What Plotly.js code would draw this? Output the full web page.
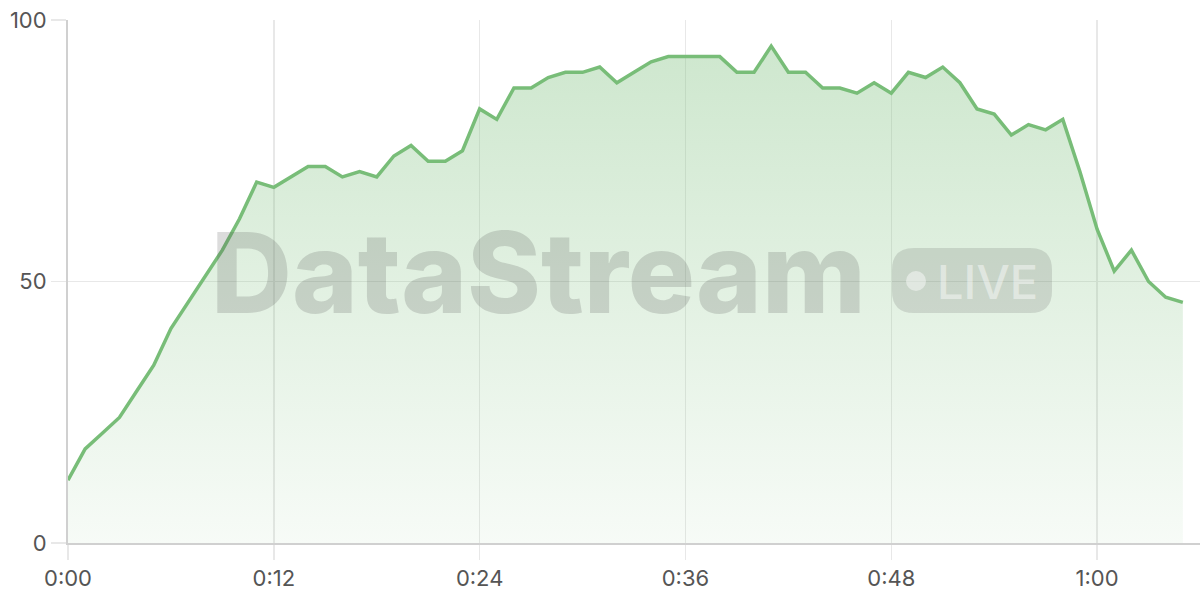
<!DOCTYPE html>
<html>
<head>
<meta charset="utf-8">
<script src="https://cdn.plot.ly/plotly-3.0.1.min.js"></script>
<style>
html,body{margin:0;padding:0;background:#fff;}
#chart{width:1200px;height:600px;}
</style>
</head>
<body>
<div id="chart"></div>
<script>
// minutes since start
const minutes = [0,1,2,3,4,5,6,7,8,9,10,11,12,13,14,15,16,17,18,19,20,21,22,23,24,25,26,27,28,29,30,31,32,33,34,35,36,37,38,39,40,41,42,43,44,45,46,47,48,49,50,51,52,53,54,55,56,57,58,59,60,61,62,63,64,65];
const values = [12,18,21,24,29,34,41,46,51,56,62,69,68,70,72,72,70,71,70,74,76,73,73,75,83,81,87,87,89,90,90,91,88,90,92,93,93,93,93,90,90,95,90,90,87,87,86,88,86,90,89,91,88,83,82,78,80,79,81,71,60,52,56,50,47,46];
const xTickVals = [0,12,24,36,48,60];
const xTickText = ["0:00","0:12","0:24","0:36","0:48","1:00"];
const yTickVals = [0,50,100];
const watermarkText = "DataStream";
const badgeText = "LIVE";

const lineColor = "#78bd78";

const trace = {
  x: minutes,
  y: values,
  type: "scatter",
  mode: "lines",
  line: {color: lineColor, width: 3.5, shape: "linear"},
  fill: "tozeroy",
  fillgradient: {
    type: "vertical",
    start: 0,
    stop: 100,
    colorscale: [[0, "rgba(120,189,120,0.06)"], [1, "rgba(120,189,120,0.38)"]]
  },
  hoverinfo: "skip"
};

const layout = {
  width: 1200,
  height: 600,
  margin: {l: 68, r: 0, t: 20, b: 57},
  paper_bgcolor: "#ffffff",
  plot_bgcolor: "#ffffff",
  showlegend: false,
  font: {family: "Inter, 'Noto Sans', sans-serif", size: 22, color: "#555555"},
  xaxis: {
    range: [0, 66],
    tickvals: xTickVals,
    ticktext: xTickText,
    showgrid: true,
    gridcolor: "#e8e8e8",
    gridwidth: 1.5,
    zeroline: false,
    showline: true,
    linecolor: "#d0d0d0",
    linewidth: 2,
    ticks: "outside",
    ticklen: 15,
    tickwidth: 1.5,
    tickcolor: "#e8e8e8",
    tickfont: {size: 22, color: "#555555"},
    fixedrange: true
  },
  yaxis: {
    range: [0, 100],
    tickvals: yTickVals,
    showgrid: true,
    gridcolor: "#e8e8e8",
    gridwidth: 1.5,
    zeroline: false,
    showline: true,
    linecolor: "#d0d0d0",
    linewidth: 2,
    ticks: "outside",
    ticklen: 15,
    tickwidth: 1.5,
    tickcolor: "#e8e8e8",
    tickfont: {size: 22, color: "#555555"},
    fixedrange: true
  },
  shapes: [
    {type: "circle", xref: "paper", yref: "paper", layer: "above",
     x0: (906-68)/1132, x1: (926-68)/1132, y0: (543-291)/523, y1: (543-271)/523,
     fillcolor: "rgba(255,255,255,0.45)", line: {width: 0}}
  ],
  annotations: [
    {text: watermarkText, xref: "paper", yref: "paper",
     x: (209-68)/1132, y: (543-272)/523, xanchor: "left", yanchor: "middle",
     showarrow: false,
     font: {family: "Inter, 'Noto Sans', sans-serif", size: 112, weight: 800, color: "rgba(80,80,80,0.2)"}},
    {text: badgeText, xref: "paper", yref: "paper",
     x: (935-68)/1132, y: (543-281)/523, xanchor: "left", yanchor: "middle",
     showarrow: false,
     font: {family: "Inter, 'Noto Sans', sans-serif", size: 47, weight: 500, color: "rgba(255,255,255,0.45)"}}
  ]
};

// rounded badge via path
(function(){
  const x0 = (892-68)/1132, x1 = (1052-68)/1132;
  const y0 = (543-313)/523, y1 = (543-248)/523;
  const rx = 22/1132, ry = 22/523;
  const p = `M ${x0+rx},${y0} L ${x1-rx},${y0} Q ${x1},${y0} ${x1},${y0+ry} L ${x1},${y1-ry} Q ${x1},${y1} ${x1-rx},${y1} L ${x0+rx},${y1} Q ${x0},${y1} ${x0},${y1-ry} L ${x0},${y0+ry} Q ${x0},${y0} ${x0+rx},${y0} Z`;
  layout.shapes.unshift({type: "path", xref: "paper", yref: "paper", layer: "above", path: p,
    fillcolor: "rgba(90,90,90,0.18)", line: {width: 0}});
})();

Plotly.newPlot("chart", [trace], layout, {displayModeBar: false, staticPlot: true});
</script>
</body>
</html>
